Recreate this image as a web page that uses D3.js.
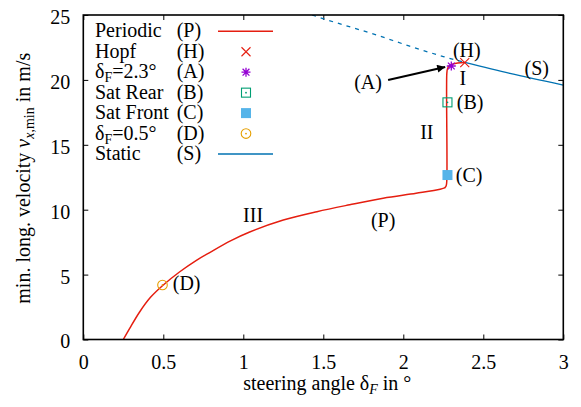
<!DOCTYPE html>
<html><head><meta charset="utf-8">
<script src="https://cdn.jsdelivr.net/npm/d3@7"></script>
<style>
body{margin:0;background:#fff}
</style>
</head><body><svg id="c" width="581" height="407" font-family="Liberation Serif"></svg>
<script>
// ---------- data ----------
const xTicks = [0, 0.5, 1, 1.5, 2, 2.5, 3];
const yTicks = [0, 5, 10, 15, 20, 25];

// periodic branch (P): min. long. velocity vs steering angle
const periodicX = [0.25, 0.29, 0.353, 0.42, 0.5, 0.603, 0.707, 0.79, 0.92, 1.04, 1.25, 1.46, 1.665, 1.874, 2.08, 2.23, 2.258, 2.268, 2.272, 2.272, 2.276, 2.285, 2.30, 2.34, 2.384];
const periodicY = [0.0, 0.86, 2.14, 3.25, 4.2, 5.22, 6.1, 6.7, 7.6, 8.28, 9.2, 9.85, 10.38, 10.88, 11.26, 11.57, 11.68, 11.85, 12.3, 20.5, 20.85, 21.05, 21.18, 21.3, 21.35];

// static branch (S): unstable part (dashed) and stable part (solid)
const staticUnstableX = [1.43, 1.53, 1.833, 2.04, 2.25, 2.384];
const staticUnstableY = [25.0, 24.6, 23.46, 22.6, 21.8, 21.35];
const staticStableX = [2.384, 2.666, 3.0];
const staticStableY = [21.35, 20.5, 19.6];

// special points
const hopfPoint = [2.384, 21.33];
const pointA = [2.30, 21.07];
const pointB = [2.276, 18.27];
const pointC = [2.276, 12.67];
const pointD = [0.495, 4.2];

// legend
const legendNames = ["Periodic", "Hopf", "δF=2.3°", "Sat Rear", "Sat Front", "δF=0.5°", "Static"];
const legendKeys = ["(P)", "(H)", "(A)", "(B)", "(C)", "(D)", "(S)"];
const legendTypes = ["lineP", "hopf", "star", "sqOpen", "sqFill", "circ", "lineS"];

// annotations (data coords)
const annotText = ["(H)", "I", "(A)", "(S)", "II", "III", "(P)"];
const annotX = [2.397, 2.372, 1.78, 2.834, 2.147, 1.061, 1.874];
const annotY = [22.3, 20.15, 19.86, 20.9, 15.99, 9.59, 9.21];
const sideText = ["(B)", "(C)", "(D)"];
const sideX = [2.334, 2.328, 0.559];
const sideY = [18.3, 12.67, 4.35];
const arrowFrom = [1.905, 19.99];
const arrowTo = [2.262, 21.0];

// ---------- colors / font ----------
const cRed = "#e51e10", cPurple = "#9400d3", cGreen = "#009e73", cLBlue = "#56b4e9", cOrange = "#e69f00", cBlue = "#0072b2";
const FONT = "'Liberation Serif', 'DejaVu Serif', serif";

// ---------- layout ----------
const svg = d3.select("#c");
svg.append("rect").attr("width", 581).attr("height", 407).attr("fill", "#fff");
const L = 83.3, R = 563.3, T = 15, B = 339.5;
const x = d3.scaleLinear().domain([0, 3]).range([L, R]);
const y = d3.scaleLinear().domain([0, 25]).range([B, T]);

const defs = svg.append("defs");
defs.append("clipPath").attr("id", "clip")
  .append("rect").attr("x", L).attr("y", T).attr("width", R - L).attr("height", B - T);
defs.append("marker").attr("id", "ah").attr("viewBox", "0 0 10 10")
  .attr("refX", 10).attr("refY", 5).attr("markerWidth", 12).attr("markerHeight", 8)
  .attr("markerUnits", "userSpaceOnUse").attr("orient", "auto")
  .append("path").attr("d", "M0,0 L10,5 L0,10 Z").attr("fill", "#000");

// axes
function styleAxis(g) {
  g.attr("font-family", null).attr("font-size", null);
  g.select(".domain").remove();
  g.selectAll("line").attr("stroke", "#000").attr("stroke-width", 1);
  g.selectAll("text").style("font-size", "20px").style("font-family", FONT).attr("fill", "#000");
}
svg.append("g").attr("transform", `translate(0,${B})`)
  .call(d3.axisBottom(x).tickValues(xTicks).tickFormat(d3.format("")).tickSizeInner(-5).tickSizeOuter(0).tickPadding(15))
  .call(styleAxis);
svg.append("g").attr("transform", `translate(0,${T})`)
  .call(d3.axisTop(x).tickValues(xTicks).tickFormat("").tickSizeInner(-5).tickSizeOuter(0))
  .call(styleAxis);
svg.append("g").attr("transform", `translate(${L},0)`)
  .call(d3.axisLeft(y).tickValues(yTicks).tickFormat(d3.format("")).tickSizeInner(-5).tickSizeOuter(0).tickPadding(13))
  .call(styleAxis)
  .call(g => g.selectAll("text").attr("dy", "0.42em"));
svg.append("g").attr("transform", `translate(${R},0)`)
  .call(d3.axisRight(y).tickValues(yTicks).tickFormat("").tickSizeInner(-5).tickSizeOuter(0))
  .call(styleAxis);

function txt(g) { return g.append("text").style("font-family", FONT).style("font-size", "20px").attr("fill", "#000"); }

// axis titles
const xt = txt(svg).attr("x", (L + R) / 2 + 4).attr("y", 390).attr("text-anchor", "middle");
xt.append("tspan").text("steering angle δ");
xt.append("tspan").style("font-size", "14px").attr("font-style", "italic").attr("dy", 4).text("F");
xt.append("tspan").attr("dy", -4).text(" in °");

const yt = txt(svg).attr("transform", `translate(30,${(T + B) / 2 + 1}) rotate(-90)`).attr("text-anchor", "middle");
yt.append("tspan").text("min. long. velocity ");
yt.append("tspan").attr("font-style", "italic").text("v");
yt.append("tspan").style("font-size", "14px").attr("dy", 4).attr("font-style", "italic").text("x");
yt.append("tspan").style("font-size", "14px").text(",min");
yt.append("tspan").attr("dy", -4).text(" in m/s");

// curves
const plot = svg.append("g").attr("clip-path", "url(#clip)");
const lineSmooth = d3.line().x(d => x(d[0])).y(d => y(d[1])).curve(d3.curveCatmullRom.alpha(0.5));
const lineMono = d3.line().x(d => x(d[0])).y(d => y(d[1])).curve(d3.curveMonotoneX);

plot.append("path").datum(staticUnstableX.map((v, i) => [v, staticUnstableY[i]]))
  .attr("d", lineMono).attr("fill", "none").attr("stroke", cBlue).attr("stroke-width", 1.3).attr("stroke-dasharray", "4,5");
plot.append("path").datum(staticStableX.map((v, i) => [v, staticStableY[i]]))
  .attr("d", lineMono).attr("fill", "none").attr("stroke", cBlue).attr("stroke-width", 1.3);
const pPts = periodicX.map((v, i) => [v, periodicY[i]]);
plot.append("path").datum(pPts.slice(0, 17))
  .attr("d", lineSmooth).attr("fill", "none").attr("stroke", cRed).attr("stroke-width", 1.5).attr("stroke-linecap", "round");
plot.append("path").datum(pPts.slice(16))
  .attr("d", lineSmooth).attr("fill", "none").attr("stroke", cRed).attr("stroke-width", 1.5).attr("stroke-linejoin", "round");

// markers
function drawMarker(g, type, cx, cy) {
  if (type === "hopf") {
    const s = 4.5;
    g.append("path").attr("d", `M${cx - s},${cy - s}L${cx + s},${cy + s}M${cx - s},${cy + s}L${cx + s},${cy - s}`)
      .attr("stroke", cRed).attr("stroke-width", 1.1).attr("fill", "none");
  } else if (type === "star") {
    const s = 4.5, d = 3.4;
    g.append("path").attr("d", `M${cx - s},${cy}L${cx + s},${cy}M${cx},${cy - s}L${cx},${cy + s}M${cx - d},${cy - d}L${cx + d},${cy + d}M${cx - d},${cy + d}L${cx + d},${cy - d}`)
      .attr("stroke", cPurple).attr("stroke-width", 1.3).attr("fill", "none");
  } else if (type === "sqOpen") {
    g.append("rect").attr("x", cx - 4.5).attr("y", cy - 4.5).attr("width", 9).attr("height", 9)
      .attr("fill", "none").attr("stroke", cGreen).attr("stroke-width", 1.1);
    g.append("circle").attr("cx", cx).attr("cy", cy).attr("r", 0.9).attr("fill", cGreen);
  } else if (type === "sqFill") {
    g.append("rect").attr("x", cx - 5).attr("y", cy - 5).attr("width", 10).attr("height", 10).attr("fill", cLBlue);
  } else if (type === "circ") {
    g.append("circle").attr("cx", cx).attr("cy", cy).attr("r", 4.8).attr("fill", "none").attr("stroke", cOrange).attr("stroke-width", 1.1);
    g.append("circle").attr("cx", cx).attr("cy", cy).attr("r", 0.9).attr("fill", cOrange);
  } else if (type === "lineP") {
    g.append("line").attr("x1", cx - 28).attr("x2", cx + 27).attr("y1", cy).attr("y2", cy).attr("stroke", cRed).attr("stroke-width", 1.4);
  } else if (type === "lineS") {
    g.append("line").attr("x1", cx - 28).attr("x2", cx + 27).attr("y1", cy).attr("y2", cy).attr("stroke", cBlue).attr("stroke-width", 1.3);
  }
}
const mk = svg.append("g");
drawMarker(mk, "sqOpen", x(pointB[0]), y(pointB[1]));
drawMarker(mk, "sqFill", x(pointC[0]), y(pointC[1]));
drawMarker(mk, "circ", x(pointD[0]), y(pointD[1]));
drawMarker(mk, "hopf", x(hopfPoint[0]), y(hopfPoint[1]));
drawMarker(mk, "star", x(pointA[0]), y(pointA[1]));

// annotations
const ag = svg.append("g");
annotText.forEach((s, i) => {
  txt(ag).attr("x", x(annotX[i])).attr("y", y(annotY[i])).attr("dy", "0.35em").attr("text-anchor", "middle").text(s);
});
sideText.forEach((s, i) => {
  txt(ag).attr("x", x(sideX[i])).attr("y", y(sideY[i])).attr("dy", "0.35em").attr("text-anchor", "start").text(s);
});
svg.append("line").attr("x1", x(arrowFrom[0])).attr("y1", y(arrowFrom[1]))
  .attr("x2", x(arrowTo[0])).attr("y2", y(arrowTo[1]))
  .attr("stroke", "#000").attr("stroke-width", 2).attr("marker-end", "url(#ah)");

// legend
const lg = svg.append("g");
legendNames.forEach((name, i) => {
  const by = 37.3 + 20.45 * i;
  const t = txt(lg).attr("x", 95).attr("y", by);
  if (name.startsWith("δF")) {
    t.append("tspan").text("δ");
    t.append("tspan").style("font-size", "14px").attr("dy", 4).text("F");
    t.append("tspan").attr("dy", -4).text(name.slice(2));
  } else {
    t.text(name);
  }
  txt(lg).attr("x", 176.7).attr("y", by).text(legendKeys[i]);
  drawMarker(lg, legendTypes[i], 246, by - 6);
});

// frame
svg.append("rect").attr("x", L).attr("y", T).attr("width", R - L).attr("height", B - T)
  .attr("fill", "none").attr("stroke", "#000").attr("stroke-width", 1.6);
</script>
</body></html>
